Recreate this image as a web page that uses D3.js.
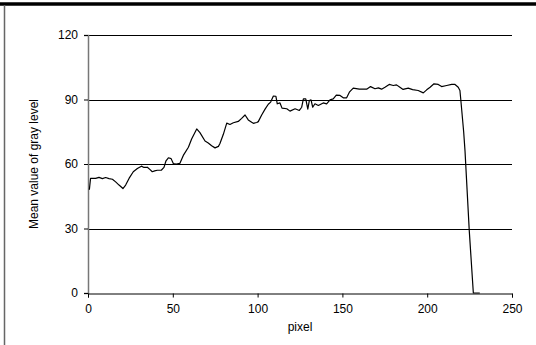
<!DOCTYPE html>
<html>
<head>
<meta charset="utf-8">
<script src="https://cdn.jsdelivr.net/npm/d3@7"></script>
<style>
  html, body { margin: 0; padding: 0; background: #fff; }
  svg { display: block; }
  text { font-family: "Liberation Sans", Arial, sans-serif; fill: #000; }
</style>
</head>
<body>
<svg id="chart" width="536" height="345"></svg>
<script>
// Profile position along the scan line (pixel index)
const pixelPos = [
  0.8, 1.5, 4.5, 6.5, 8.5, 10.4, 12.4, 14.4, 16.3, 18.3, 20.6, 22.2, 24.2, 26.7, 29.1,
  31.5, 33, 35, 36.6, 37.9, 39.3, 40.9, 43.2, 44.8, 46, 47.4, 49, 50.3, 52, 54.2,
  56.2, 59.2, 61.1, 64.1, 66, 69, 70.9, 72.9, 74.9, 76.9, 77.8, 79.8, 81.8, 83.7, 85.7,
  88.6, 90.6, 92.6, 94.5, 96.5, 97.5, 99.5, 100.4, 102.4, 104.4, 106.3, 107.7, 109.3, 110.8, 111.6,
  113.2, 114.4, 117.2, 119.1, 122.1, 124.6, 126, 127, 128.4, 129.6, 130.5, 131.5, 132.5, 133.8, 135.8,
  138.7, 140.7, 142.7, 144.6, 146.4, 148.6, 150.5, 152.5, 154.1, 156.4, 160, 164.3, 166.6, 169.2, 171.2,
  173.1, 175.1, 177.6, 180, 181.9, 183.9, 185.8, 188.8, 191.4, 194.7, 197.7, 199.7, 201.7, 204, 206.5,
  208.5, 211.5, 214.4, 216.4, 218.3, 219.3, 219.8, 221.5, 222.3, 224.8, 227.2, 231
];

// Mean gray level measured at each position
const grayLevel = [
  48, 53.3, 53.3, 53.8, 53.2, 53.7, 53.2, 52.9, 51.7, 50.2, 48.6, 50.2, 53.3, 56.4, 57.9,
  59, 58.4, 58.5, 57.4, 56.4, 56.8, 57.1, 57.1, 58.4, 61.5, 62.9, 62.5, 60.2, 60, 60.3,
  64, 67.8, 71.6, 76.3, 74.6, 70.7, 69.8, 68.5, 67.5, 68.2, 69.5, 73.8, 79, 78.4, 79.2,
  79.8, 81.2, 82.8, 80.5, 79.4, 78.9, 79.3, 79.7, 82.8, 85.5, 87.8, 88.8, 91.6, 91.5, 88,
  88.4, 86, 85.7, 84.6, 85.7, 84.9, 86.4, 90.3, 90.3, 85.5, 89.5, 89.8, 86.4, 88, 87.2,
  88.4, 88, 89.8, 90.3, 92, 91.9, 90.8, 90.8, 93.4, 95.3, 94.8, 94.8, 96, 95, 95.4,
  94.8, 95.7, 97, 96.5, 96.8, 95.7, 94.7, 95.3, 94.6, 94.2, 93.1, 94.5, 95.7, 97.3, 97,
  96, 96.5, 97, 97, 95.7, 94.2, 90, 75, 66, 29, 0, 0
];

// Axis ticks
const xTicks = [0, 50, 100, 150, 200, 250];
const yTicks = [0, 30, 60, 90, 120];

const svg = d3.select("#chart");

const x = d3.scaleLinear().domain([0, 250]).range([88, 512]);
const y = d3.scaleLinear().domain([0, 120]).range([293, 35]);

// Outer frame: heavy rule along the top, thin rule down the left side
svg.append("line")
  .attr("x1", 0).attr("x2", 536).attr("y1", 4).attr("y2", 4)
  .attr("stroke", "#000").attr("stroke-width", 3.5);
svg.append("line")
  .attr("x1", 4.5).attr("x2", 4.5).attr("y1", 5).attr("y2", 345)
  .attr("stroke", "#666").attr("stroke-width", 1.5);

// Horizontal gridlines
svg.append("g")
  .selectAll("line")
  .data(yTicks.filter(d => d > 0))
  .join("line")
  .attr("x1", x(0)).attr("x2", x(250))
  .attr("y1", d => Math.round(y(d)) + 0.5)
  .attr("y2", d => Math.round(y(d)) + 0.5)
  .attr("stroke", "#000").attr("stroke-width", 1);

// Y axis
const yAxis = d3.axisLeft(y).tickValues(yTicks).tickSize(4).tickPadding(6);
const gy = svg.append("g").attr("transform", `translate(${x(0)},0)`).call(yAxis);
gy.select(".domain").attr("stroke", "#777").attr("stroke-width", 1.5);
gy.selectAll(".tick line").attr("stroke", "#000");
gy.selectAll(".tick text")
  .attr("font-size", 12)
  .attr("font-family", "Liberation Sans, Arial, sans-serif");

// X axis
const xAxis = d3.axisBottom(x).tickValues(xTicks).tickSize(4).tickPadding(7);
const gx = svg.append("g").attr("transform", `translate(0,${Math.round(y(0)) + 0.5})`).call(xAxis);
gx.select(".domain").attr("stroke", "#000");
gx.selectAll(".tick line").attr("stroke", "#000");
gx.selectAll(".tick text")
  .attr("font-size", 12)
  .attr("font-family", "Liberation Sans, Arial, sans-serif");

// Profile line
const line = d3.line()
  .x((d, i) => x(pixelPos[i]))
  .y(d => y(d));
svg.append("path")
  .datum(grayLevel)
  .attr("d", line)
  .attr("fill", "none")
  .attr("stroke", "#000")
  .attr("stroke-width", 1.2)
  .attr("stroke-linejoin", "round");

// Axis titles
svg.append("text")
  .attr("x", (x(0) + x(250)) / 2)
  .attr("y", 331)
  .attr("text-anchor", "middle")
  .attr("font-size", 12)
  .text("pixel");

svg.append("text")
  .attr("transform", `translate(38,${(y(0) + y(120)) / 2}) rotate(-90)`)
  .attr("text-anchor", "middle")
  .attr("font-size", 12)
  .text("Mean value of gray level");
</script>
</body>
</html>
